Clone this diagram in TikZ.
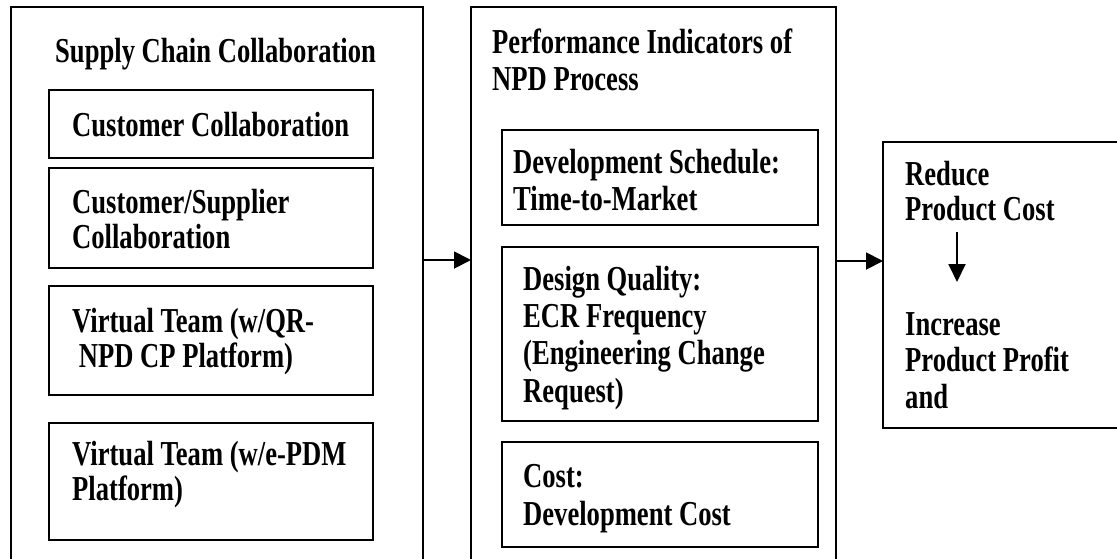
\documentclass[tikz,border=0pt]{standalone}
\usepackage{fontspec}
\setmainfont[FakeStretch=0.76]{Liberation Serif}
\usetikzlibrary{arrows.meta}
\tikzset{
  boxline/.style={line width=1.9pt},
  lbl/.style={anchor=base west, inner sep=0pt, align=left,
    font=\bfseries\fontsize{35}{#1}\selectfont},
  lbl/.default=36.5,
  flow/.style={line width=1.9pt, -{Triangle[length=17pt,width=17pt]}},
}
\begin{document}
\begin{tikzpicture}[x=1pt, y=-1pt]
  \clip (0,0) rectangle (1117,558);
  \fill[white] (0,0) rectangle (1117,558);

  % outer frames (they run past the lower and right edges)
  \draw[boxline] (11,620) |- (423,7) -- (423,620);
  \draw[boxline] (471,620) |- (836,7) -- (836,620);
  \draw[boxline] (1140,142) -| (883,428) -- (1140,428);
  \coordinate (sccE) at (423,260);
  \coordinate (npdW) at (471,260);
  \coordinate (npdE) at (836,261);
  \coordinate (resW) at (883,261);

  % left column boxes
  \draw[boxline] (49,90) rectangle (373,158);
  \draw[boxline] (49,168) rectangle (373,268);
  \draw[boxline] (49,286) rectangle (373,395);
  \draw[boxline] (49,423) rectangle (373,540);

  % middle column boxes
  \draw[boxline] (502,130) rectangle (818,225);
  \draw[boxline] (502,247) rectangle (818,421);
  \draw[boxline] (502,442) rectangle (818,547);

  % texts (anchored at the baseline of the last line)
  \node[lbl] (t0) at (55,62) {Supply Chain Collaboration};
  \node[lbl] (t1) at (72,136) {Customer Collaboration};
  \node[lbl=35] (t2) at (72,248) {Customer/Supplier\\Collaboration};
  \node[lbl=35] (t3) at (72,367) {Virtual Team (w/QR-\\\ NPD CP Platform)};
  \node[lbl=35] (t4) at (72,500) {Virtual Team (w/e-PDM\\Platform)};

  \node[lbl=37] (m0) at (492,90) {Performance Indicators of\\NPD Process};
  \node[lbl=37] (m1) at (513,210) {Development Schedule:\\Time-to-Market};
  \node[lbl=37.3] (m2) at (523,402) {Design Quality:\\ECR Frequency\\(Engineering Change\\Request)};
  \node[lbl=38] (m3) at (523,525) {Cost:\\Development Cost};

  \node[lbl=35] (r1) at (905,220) {Reduce\\Product Cost};
  \node[lbl=36.5] (r2) at (905,408) {Increase\\Product Profit\\and};
  \coordinate (dTop) at (957,232);
  \coordinate (dBot) at (957,282);

  % connectors
  \draw[flow] (sccE) -- (npdW);
  \draw[flow] (npdE) -- (resW);
  \draw[line width=1.9pt, -{Triangle[length=18pt,width=17pt]}] (dTop) -- (dBot);
\end{tikzpicture}
\end{document}
